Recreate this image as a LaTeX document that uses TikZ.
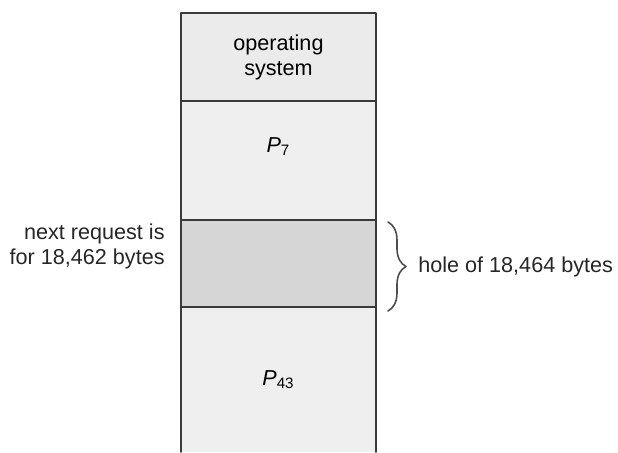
\documentclass[tikz,border=0pt]{standalone}
\usepackage{fontspec}
\setmainfont{Liberation Sans}
\usetikzlibrary{positioning,calc,decorations.pathreplacing}

\definecolor{osgray}{HTML}{EBEBEB}
\definecolor{procgray}{HTML}{EFEFEF}
\definecolor{holegray}{HTML}{D6D6D6}
\definecolor{edgegray}{HTML}{3A3A3A}

\begin{document}
\begin{tikzpicture}[x=0.5pt,y=-0.5pt,line cap=round,line join=round,
  font=\fontsize{10.8}{12.5}\selectfont,
  region/.style={fill=#1,draw=edgegray,line width=0.8pt,
    minimum width=97.5pt,inner sep=0pt,outer sep=0pt,align=center},
  label/.style={text=black!85,inner sep=1pt}]
  \useasboundingbox (0,0) rectangle (618,452);
  % memory column
  \node[region=osgray,minimum height=44pt,anchor=north] (os) at (278.5,13) {operating\\system};
  \node[region=procgray,minimum height=59.5pt,below=0pt of os] (p7) {\itshape P\textsubscript{\upshape 7}\\[3pt]};
  \node[region=holegray,minimum height=43.5pt,below=0pt of p7] (hole) {};
  \node[region=procgray,draw=none,minimum height=72.5pt,below=0pt of hole] (p43) {\itshape P\textsubscript{\upshape 43}};
  \draw[edgegray,line width=0.8pt] (p43.south west) -- (p43.north west) -- (p43.north east) -- (p43.south east);
  % labels
  \node[label,anchor=north east,align=right] (req) at ([xshift=-7pt,yshift=-0.5pt]hole.north west) {next request is\\for 18,462 bytes};
  \coordinate (btop) at ([xshift=6pt,yshift=-1pt]hole.north east);
  \coordinate (bbot) at ([xshift=6pt,yshift=-2pt]hole.south east);
  \draw[edgegray!90,line width=0.8pt,decorate,decoration={brace,amplitude=9pt}] (btop) -- (bbot);
  \coordinate (tip) at ([xshift=10pt]$(btop)!0.5!(bbot)$);
  \node[label,right=4pt of tip] (holelbl) {hole of 18,464 bytes};
\end{tikzpicture}
\end{document}
